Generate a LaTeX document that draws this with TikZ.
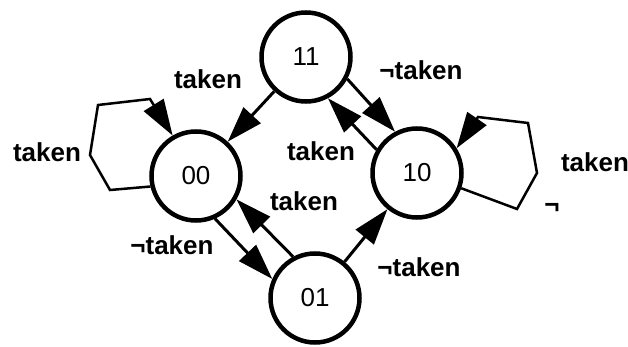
\documentclass[tikz,border=0pt]{standalone}
\usepackage{fontspec}
\setmainfont{Liberation Sans}
\usetikzlibrary{arrows.meta}

\begin{document}
\begin{tikzpicture}[
    x=1pt, y=-1pt,
    state/.style={circle, draw, line width=4.5pt, minimum size=89pt, inner sep=0pt, font=\fontsize{26}{30}\selectfont},
    lbl/.style={font=\fontsize{26}{30}\selectfont\bfseries, inner sep=0pt},
    arrow/.style={-{Triangle[length=36pt,width=23pt]}, line width=3pt},
    selfloop/.style={-{Triangle[length=36pt,width=23pt]}, line width=2.5pt, line join=miter}
]
\useasboundingbox (0,0) rectangle (628,347);

% states
\node[state] (n11) at (306,57) {11};
\node[state] (n00) at (196,176) {00};
\node[state] (n10) at (417,173) {10};
\node[state] (n01) at (315,298) {01};

% transitions
\draw[arrow] (n11) -- (n00);
\draw[arrow] (n11.-28) -- (n10.118);
\draw[arrow] (n10.150) -- (n11.-62);
\draw[arrow] (n00.-66) -- (n01.156);
\draw[arrow] (n01.118) -- (n00.-30);
\draw[arrow] (n01) -- (n10);

% self loops
\draw[selfloop] (n00.193) -- (110,190) -- (90,155) -- (98,105) -- (150,99) -- (n00.120);
\draw[selfloop] (n10.-19) -- (517,209) -- (537,173) -- (528,123) -- (478,117) -- (n10.32);

% labels
\node[lbl] (l1) at (208,79) {taken};
\node[lbl] (l2) at (47,152) {taken};
\node[lbl] (l3) at (421,70) {¬taken};
\node[lbl] (l4) at (321,151) {taken};
\node[lbl] (l5) at (304,201) {taken};
\node[lbl] (l6) at (172,245) {¬taken};
\node[lbl] (l7) at (419,267) {¬taken};
\node[lbl] (l8) at (595,162) {taken};
\node[lbl] (l9) at (552,208) {¬};

\end{tikzpicture}
\end{document}
